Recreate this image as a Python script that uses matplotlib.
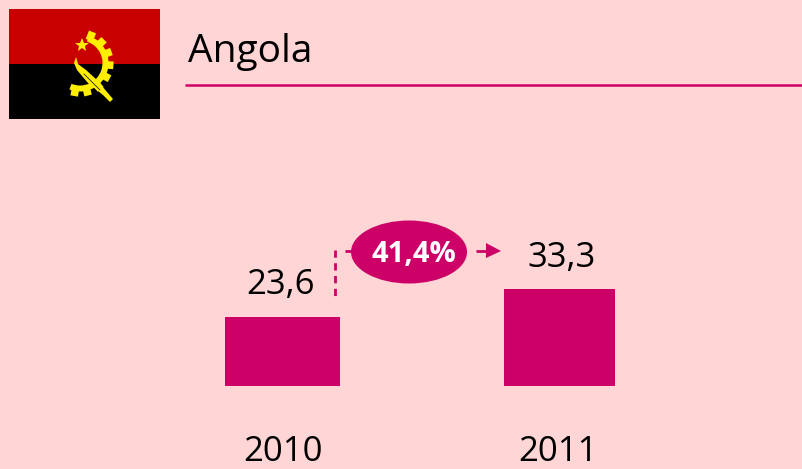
"""Angola: gráfico de barras 2010/2011 com bandeira e variação percentual."""

import matplotlib

matplotlib.use("Agg")
import matplotlib.pyplot as plt
import numpy as np
from matplotlib.patches import Ellipse, Polygon, Rectangle, Wedge

titulo = "Angola"
anos = ["2010", "2011"]
valores = [23.6, 33.3]
rotulos = ["23,6", "33,3"]
variacao = "41,4%"

FUNDO = "#ffd5d5"
MAGENTA = "#cc0066"
AMARELO = "#ffee00"
LARGURA, ALTURA = 802, 469

plt.rcParams["font.family"] = ["Open Sans", "DejaVu Sans"]

fig = plt.figure(figsize=(LARGURA / 100, ALTURA / 100), dpi=100, facecolor=FUNDO)

# Camada em pixels para os elementos de layout.
ax = fig.add_axes([0, 0, 1, 1])
ax.set_xlim(0, LARGURA)
ax.set_ylim(ALTURA, 0)
ax.axis("off")

# Barras com eixo próprio: a altura vem dos valores.
ax_barras = fig.add_axes([225 / LARGURA, (ALTURA - 386) / ALTURA, 390 / LARGURA, 97 / ALTURA])
ax_barras.set_xlim(225, 615)
ax_barras.set_ylim(0, max(valores))
ax_barras.axis("off")
ax_barras.bar([282.5, 559.5], valores, width=[115, 111], color=MAGENTA)

# Bandeira.
ax.add_patch(Rectangle((9, 9), 151, 55, color="#c80000", lw=0))
ax.add_patch(Rectangle((9, 64), 151, 55, color="#000000", lw=0))

# Engrenagem (y invertido: os ângulos da Wedge ficam espelhados).
cx, cy = 80, 63
ax.add_patch(Wedge((cx, cy), 28.5, -72, 112, width=6, color=AMARELO, lw=0))
for ang in np.arange(-68, 112, 24):
    t = np.deg2rad(ang)
    d = np.array([np.cos(t), np.sin(t)])
    n = np.array([-d[1], d[0]])
    centro = np.array([cx, cy]) + d * 29
    cantos = [centro + a * d * 4.5 + b * n * 3.8 for a, b in ((-1, -1), (1, -1), (1, 1), (-1, 1))]
    ax.add_patch(Polygon(cantos, color=AMARELO, lw=0))

# Catana.
ax.add_patch(Polygon(
    [(76, 57), (74, 63), (77, 70), (88, 83), (103, 95), (110, 102), (113, 99),
     (107, 92), (97, 80), (86, 70), (78, 64)],
    color=AMARELO, lw=0,
))
ax.plot([84, 100], [74, 90], color="#000000", lw=0.5)

# Estrela.
ax.plot([82], [45], marker="*", ms=10, color=AMARELO, mew=0, ls="none")

# Título e linha.
ax.text(188, 52, titulo, fontsize=28, color="#000000", ha="left", va="center")
ax.plot([185, 802], [85, 85], color=MAGENTA, lw=1.8, solid_capstyle="butt")

# Rótulos dos valores e anos.
ax.text(280, 285, rotulos[0], fontsize=25, color="#000000", ha="center", va="center")
ax.text(562, 258, rotulos[1], fontsize=25, color="#000000", ha="center", va="center")
ax.text(283, 452, anos[0], fontsize=25, color="#000000", ha="center", va="center")
ax.text(558, 452, anos[1], fontsize=25, color="#000000", ha="center", va="center")

# Indicador de variação.
ax.plot([335, 335], [250, 298], color=MAGENTA, lw=2, ls=(0, (2.6, 2)))
ax.plot([345, 353], [251, 251], color=MAGENTA, lw=2, solid_capstyle="butt")
ax.add_patch(Ellipse((409, 252), 116, 63, color=MAGENTA, lw=0))
ax.text(414, 255, variacao, fontsize=21, fontweight="bold", color="#ffffff", ha="center", va="center")
ax.plot([476, 490], [251, 251], color=MAGENTA, lw=2, solid_capstyle="butt")
ax.add_patch(Polygon([(486, 243), (501, 251), (486, 258)], color=MAGENTA, lw=0))

fig.savefig("out.png", dpi=100, facecolor=FUNDO)
